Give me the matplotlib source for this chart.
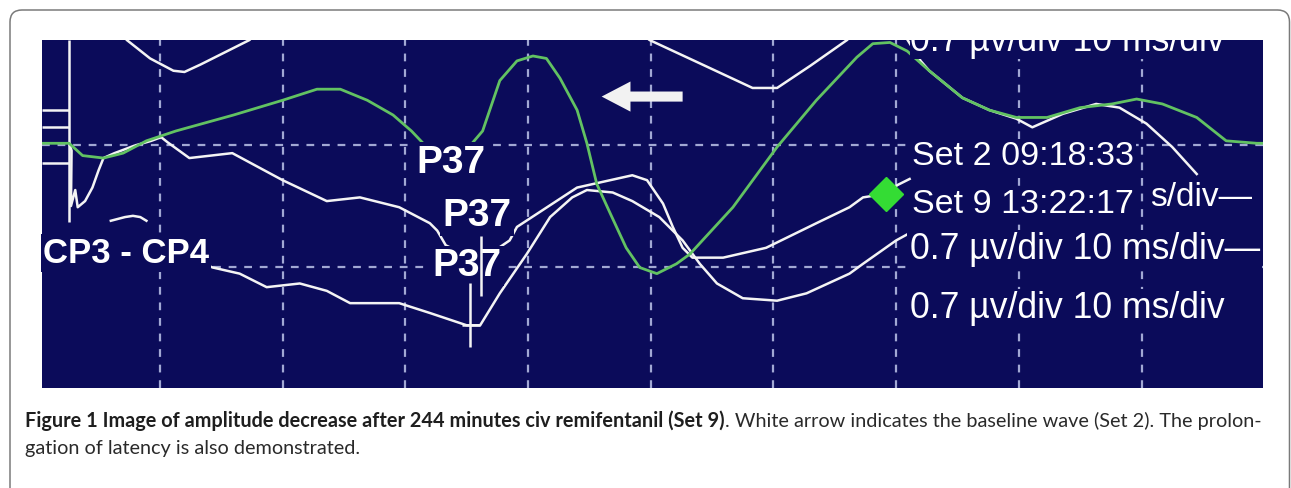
import numpy as np
import matplotlib
matplotlib.use('Agg')
import matplotlib.pyplot as plt
from matplotlib.patches import FancyBboxPatch, FancyArrow

# Screen read-out of the evoked potential display
# time in ms (10 ms/div), amplitude in divisions (0.7 uV/div)

# green trace, Set 2 (baseline)
green = np.array([
    (0.4, 1.01), (2.6, 1.01), (3.7, 0.91), (5.4, 0.89), (7.0, 0.93), (8.9, 1.03),
    (11.3, 1.11), (16.0, 1.24), (20.0, 1.36), (22.8, 1.45), (24.7, 1.45), (26.9, 1.36),
    (29.0, 1.24), (30.5, 1.11), (32.5, 0.90), (34.5, 0.90), (36.3, 1.11), (37.7, 1.52),
    (39.1, 1.68), (40.4, 1.72), (41.5, 1.70), (42.6, 1.54), (44.0, 1.28), (44.8, 1.01),
    (45.6, 0.68), (46.7, 0.44), (48.0, 0.16), (49.1, 0.0), (50.5, -0.05), (52.1, 0.03),
    (53.2, 0.11), (56.7, 0.49), (60.3, 0.98), (63.5, 1.36), (66.8, 1.71), (68.1, 1.82),
    (69.5, 1.83), (70.9, 1.76), (72.7, 1.60), (75.4, 1.38), (77.6, 1.28), (79.8, 1.22),
    (82.3, 1.22), (85.0, 1.30), (87.6, 1.33), (89.6, 1.37), (91.7, 1.33), (94.5, 1.22),
    (96.9, 1.03), (99.4, 1.01), (100.0, 1.01)])

# white trace, upper part (runs off the top of the screen, then under the green one)
white_top = np.array([
    (6.5, 1.95), (7.3, 1.85), (9.2, 1.70), (11.1, 1.60), (12.0, 1.59), (13.3, 1.65),
    (17.3, 1.85), (18.5, 1.97), (33.0, 2.30), (48.5, 1.97), (49.9, 1.85), (54.0, 1.66),
    (58.3, 1.46), (60.3, 1.46), (63.0, 1.64), (66.0, 1.85), (67.5, 2.0), (70.0, 2.0),
    (72.0, 1.68), (72.7, 1.60), (75.4, 1.38), (77.6, 1.28), (79.8, 1.21), (81.1, 1.14),
    (83.6, 1.25), (86.3, 1.33), (88.2, 1.30), (90.4, 1.17), (92.5, 0.98), (94.5, 0.76)])

# white trace A, CP3 - CP4 (with stimulus artefact)
white_a = np.array([
    (2.6, 1.01), (2.8, 0.95), (2.75, 0.50), (3.1, 0.63), (3.3, 0.49), (3.9, 0.54),
    (4.5, 0.65), (5.0, 0.79), (5.4, 0.89), (6.3, 0.93), (7.9, 0.99), (9.3, 1.03),
    (10.1, 1.06), (10.6, 1.02), (12.4, 0.89), (15.9, 0.93), (20.0, 0.71), (23.6, 0.54),
    (26.3, 0.57), (29.5, 0.49), (32.0, 0.36), (32.6, 0.30), (33.3, 0.18), (36.0, 0.05),
    (38.5, 0.22), (39.1, 0.33), (44.0, 0.65), (45.8, 0.69), (48.5, 0.75), (49.7, 0.71),
    (51.0, 0.52), (51.8, 0.33), (52.6, 0.16), (53.4, 0.08), (55.9, 0.08), (59.4, 0.16),
    (63.5, 0.36), (66.2, 0.49), (67.3, 0.57), (69.2, 0.60), (70.1, 0.67), (71.1, 0.72)])

# white trace B, CP3 - CP4
white_b = np.array([
    (13.8, 0.02), (14.3, 0.0), (16.5, -0.05), (18.7, -0.16), (21.4, -0.13), (23.6, -0.19),
    (25.5, -0.29), (28.2, -0.29), (29.5, -0.29), (32.0, -0.37), (35.0, -0.47), (36.1, -0.47),
    (37.7, -0.21), (39.9, 0.11), (41.8, 0.41), (43.6, 0.57), (44.8, 0.63), (46.9, 0.61),
    (48.5, 0.54), (50.7, 0.41), (52.6, 0.22), (54.0, 0.03), (55.4, -0.13), (57.5, -0.25),
    (60.3, -0.27), (62.7, -0.21), (66.2, -0.05), (67.3, 0.03), (70.0, 0.22), (71.1, 0.28)])

# small fragment under the artefact
fragment = np.array([(6.0, 0.38), (7.15, 0.41), (7.8, 0.42), (8.4, 0.41), (8.9, 0.38)])

# calibration marks at the left edge
calib_y = [1.28, 1.14, 0.85]

# P37 cursors
cursor_t = [35.3, 36.2]
cursor_top = [-0.13, 0.26]
cursor_bot = [-0.65, -0.23]

# active cursor (green diamond)
diamond_t, diamond_y = 69.2, 0.60

navy = '#0b0b5a'
gcol = '#62c262'
wcol = '#f4f4f4'

fig = plt.figure(figsize=(12.91, 4.88), dpi=100)

# rounded frame of the figure box
frame = FancyBboxPatch((0.1, -1.0), 12.795, 5.78, boxstyle='round,pad=0,rounding_size=0.12',
                       transform=fig.dpi_scale_trans, fc='none', ec='#7a7a7a', lw=1.1)
fig.patches.append(frame)

ax = fig.add_axes([42 / 1291, 100 / 488, 1221 / 1291, 348 / 488])
ax.set_facecolor(navy)
ax.set_xlim(0.39, 99.9)
ax.set_ylim(-0.98, 1.85)
ax.set_xticks(np.arange(10, 100, 10))
ax.set_yticks([0, 1])
ax.tick_params(length=0, labelbottom=False, labelleft=False)
for s in ax.spines.values():
    s.set_visible(False)
ax.grid(True, color='#a2a8d4', lw=1.6, linestyle=(0, (3.5, 3.5)))
ax.set_axisbelow(True)

# traces
ax.plot(white_top[:, 0], white_top[:, 1], color=wcol, lw=1.8, zorder=2)
ax.plot(white_a[:, 0], white_a[:, 1], color=wcol, lw=1.8, zorder=2)
ax.plot(white_b[:, 0], white_b[:, 1], color=wcol, lw=1.8, zorder=2)
ax.plot(fragment[:, 0], fragment[:, 1], color=wcol, lw=1.8, zorder=2)
ax.plot(green[:, 0], green[:, 1], color=gcol, lw=2.0, zorder=3)

ax.hlines(calib_y, 0.39, 2.6, color=wcol, lw=1.8, zorder=2)
ax.vlines(2.6, 0.37, 1.85, color=wcol, lw=1.8, zorder=2)

# labels (drawn with the screen background behind them)
bg = dict(boxstyle='square,pad=0.06', fc=navy, ec='none')
pfont = dict(family='Liberation Sans', weight='bold', color='white', zorder=5)
ax.text(30.9, 0.77, 'P37', fontsize=28, va='baseline', bbox=bg, **pfont)
ax.text(33.0, 0.34, 'P37', fontsize=28, va='baseline', bbox=bg, **pfont)
ax.text(32.2, -0.07, 'P37', fontsize=28, va='baseline', bbox=bg, **pfont)
ax.text(0.5, 0.04, 'CP3 - CP4', fontsize=25, va='baseline', bbox=bg, **pfont)

sfont = dict(family='Liberation Sans', color='white', va='baseline', zorder=5)
ax.text(71.1, 1.764, '0.7 \u00b5v/div 10 ms/div', fontsize=25.6, clip_on=True,
        bbox=dict(boxstyle='square,pad=0.0', fc=navy, ec='none'), **sfont)
ax.text(71.3, 0.83, 'Set 2 09:18:33', fontsize=24.5, bbox=bg, **sfont)
ax.text(71.3, 0.44, 'Set 9 13:22:17', fontsize=24.5, bbox=bg, **sfont)
ax.text(90.7, 0.50, 's/div\u2014', fontsize=24, **sfont)
ax.text(71.1, 0.07, '0.7 \u00b5v/div 10 ms/div\u2014', fontsize=25.6, bbox=bg, **sfont)
ax.text(71.1, -0.41, '0.7 \u00b5v/div 10 ms/div', fontsize=25.6, bbox=bg, **sfont)

# cursors
ax.vlines(cursor_t, cursor_bot, cursor_top, color=wcol, lw=1.8, zorder=7)
ax.hlines(-0.47, 34.6, 36.1, color=wcol, lw=1.8, zorder=7)
ax.plot(diamond_t, diamond_y, marker='D', ms=17, color='#34dc34', mec='#34dc34', zorder=7)

# arrow pointing at the baseline wave
ax.add_patch(FancyArrow(52.6, 1.39, -6.6, 0, width=0.082, head_width=0.245,
                        head_length=2.35, length_includes_head=True,
                        fc='#f2f2f2', ec='none', zorder=8))

# caption
cy1 = 1 - 427 / 488
cy2 = 1 - 454 / 488
fs = 12.5
t1 = fig.text(25 / 1291, cy1, 'Figure 1 Image of amplitude decrease after 244 minutes civ remifentanil (Set 9)',
              family='Lato', weight='bold', fontsize=fs, va='baseline', color='#1e1e1e')
t2 = fig.text(0.5, cy1, '. White arrow indicates the baseline wave (Set 2). The prolon-',
              family='Lato', fontsize=fs, va='baseline', color='#2a2a2a')
t3 = fig.text(25 / 1291, cy2, 'gation of latency is also demonstrated.',
              family='Lato', fontsize=fs, va='baseline', color='#2a2a2a')

# fit the first caption line to the width of the box
fig.canvas.draw()
r = fig.canvas.get_renderer()
w = t1.get_window_extent(r).width + t2.get_window_extent(r).width
for t in (t1, t2, t3):
    t.set_fontsize(fs * 1240 / w)
fig.canvas.draw()
t2.set_x(t1.get_window_extent(r).x1 / 1291)

fig.savefig('out.png', dpi=100)
